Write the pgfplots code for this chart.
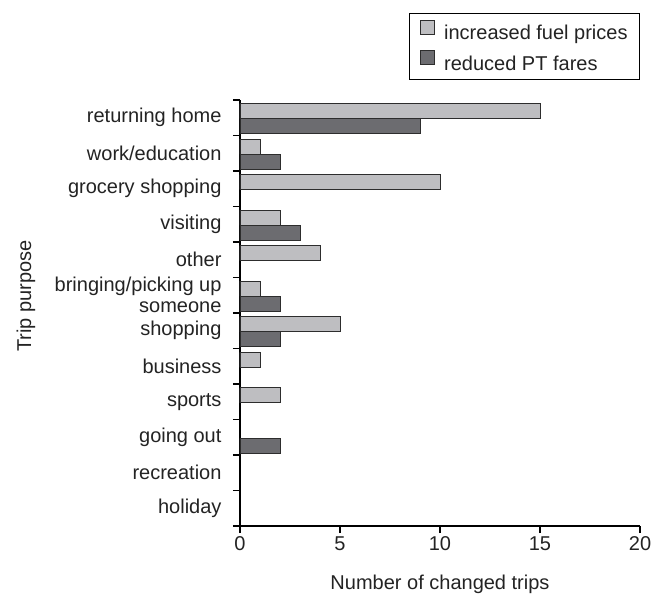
\documentclass[border=0pt]{standalone}
\usepackage{fontspec}
\setmainfont{Liberation Sans}
\usepackage{pgfplots}
\pgfplotsset{compat=1.18}
\definecolor{lightbar}{RGB}{190,190,193}
\definecolor{darkbar}{RGB}{108,108,112}
\definecolor{edge}{RGB}{45,45,45}
\definecolor{txt}{RGB}{35,35,35}
\begin{document}
\begin{tikzpicture}
\begin{axis}[
  at={(0,0)}, anchor=south west,
  scale only axis, width=400pt, height=426pt,
  font=\fontsize{20}{21}\selectfont,
  text=txt,
  xbar,
  xmin=0, xmax=20, ymin=-0.5, ymax=11.5,
  axis x line=bottom, axis y line=left,
  axis line style={-, line width=1.3pt, black},
  tick style={line width=1.3pt, black},
  tick align=outside, major tick length=7pt,
  xtick={0,5,10,15,20},
  ytick={-0.5,0.5,...,11.5},
  yticklabels={holiday, recreation, going out, sports, business, shopping, {bringing/picking up\\someone}, other, visiting, grocery shopping, work/education, returning home, {}},
  yticklabel style={yshift=17.75pt, align=right, xshift=-8pt},
  /pgf/number format/assume math mode=true,
  xlabel={Number of changed trips},
  ylabel={Trip purpose},
  xlabel style={at={(axis description cs:0.5,0)}, anchor=base, yshift=-63pt},
  ylabel style={at={(axis description cs:-0.535,0.54)}, anchor=center, rotate=0},
  legend style={at={(axis description cs:1,1)}, anchor=south east, yshift=20pt,
    draw=black, line width=0.8pt, font=\fontsize{20}{21}\selectfont, text=txt,
    row sep=7pt, inner xsep=10pt, inner ysep=6pt},
  legend cell align=left,
  legend image code/.code={\draw[#1, line width=0.8pt] (0pt,-1pt) rectangle (14pt,13pt); \path[draw=none, fill=none] (0pt,0pt) -- (22pt,0pt);},
]
\addplot[fill=lightbar, draw=edge, line width=0.8pt, bar width=15pt, bar shift=6.5pt]
  coordinates {(15,11) (1,10) (10,9) (2,8) (4,7) (1,6) (5,5) (1,4) (2,3)};
\addlegendentry{increased fuel prices}
\addplot[fill=darkbar, draw=edge, line width=0.8pt, bar width=15pt, bar shift=-8.5pt]
  coordinates {(9,11) (2,10) (3,8) (2,6) (2,5) (2,2)};
\addlegendentry{reduced PT fares}
\end{axis}
\pgfresetboundingbox
\path (-240pt,-71pt) rectangle (426pt,526pt);
\end{tikzpicture}
\end{document}
